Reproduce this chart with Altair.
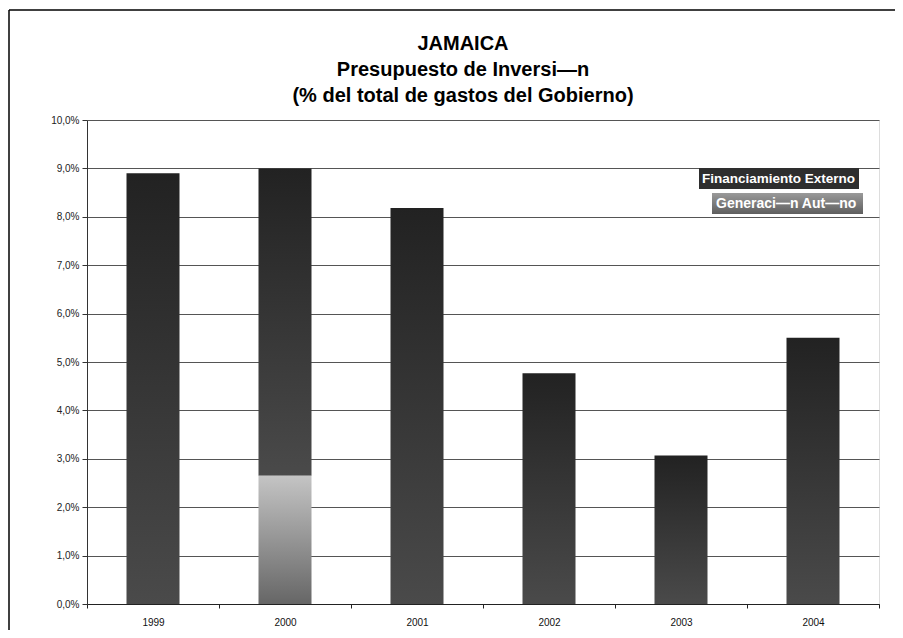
import altair as alt
import pandas as pd

years = ["1999", "2000", "2001", "2002", "2003", "2004"]
fin_externo = [8.9, 6.35, 8.18, 4.77, 3.07, 5.5]
gen_autonoma = [0.0, 2.65, 0.0, 0.0, 0.0, 0.0]
y_ticks = [0, 1, 2, 3, 4, 5, 6, 7, 8, 9, 10]
title_lines = ["JAMAICA", "Presupuesto de Inversi—n", "(% del total de gastos del Gobierno)"]
legend_labels = ["Financiamiento Externo", "Generaci—n Aut—noma"]

FONT = "Liberation Sans"
W, H = 792, 484

df = pd.DataFrame({"year": years, "fe": fin_externo, "ga": gen_autonoma})

fe_grad = alt.LinearGradient(
    gradient="linear",
    stops=[alt.GradientStop(color="#222222", offset=0), alt.GradientStop(color="#4a4a4a", offset=1)],
    x1=0, x2=0, y1=0, y2=1,
)
ga_grad = alt.LinearGradient(
    gradient="linear",
    stops=[alt.GradientStop(color="#c4c4c4", offset=0), alt.GradientStop(color="#666666", offset=1)],
    x1=0, x2=0, y1=0, y2=1,
)
leg_grad = alt.LinearGradient(
    gradient="linear",
    stops=[alt.GradientStop(color="#9a9a9a", offset=0), alt.GradientStop(color="#5e5e5e", offset=1)],
    x1=0, x2=0, y1=0, y2=1,
)

x_enc = alt.X(
    "year:N",
    sort=years,
    title=None,
    scale=alt.Scale(paddingInner=0, paddingOuter=0),
    axis=alt.Axis(
        labelAngle=0, labelFont=FONT, labelFontSize=10, labelColor="#111",
        labelPadding=9, tickSize=4, tickColor="#222", tickBand="extent",
        domainColor="#222", grid=False,
    ),
)
y_scale = alt.Scale(domain=[0, 10], nice=False)
y_axis = alt.Axis(
    values=y_ticks,
    labelExpr="replace(format(datum.value, '.1f'), '.', ',') + '%'",
    labelFont=FONT, labelFontSize=10, labelColor="#222", labelPadding=3,
    tickSize=5, tickColor="#333", domainColor="#333",
    gridColor="#555", gridWidth=1,
)

base = alt.Chart(df)

fe_bars = base.transform_calculate(top="datum.ga + datum.fe").mark_bar(
    color=fe_grad, size=53
).encode(
    x=x_enc,
    y=alt.Y("top:Q", scale=y_scale, axis=y_axis, title=None),
    y2="ga:Q",
)

ga_bars = base.transform_filter("datum.ga > 0").mark_bar(color=ga_grad, size=53).encode(
    x=x_enc,
    y=alt.Y("ga:Q", scale=y_scale, title=None),
    y2=alt.datum(0),
)

# Title lines (text)
title_layers = []
for i, line in enumerate(title_lines):
    title_layers.append(
        alt.Chart(pd.DataFrame({"t": [line]})).mark_text(
            font=FONT, fontSize=20, fontWeight="bold", color="#000",
            align="center", baseline="middle",
        ).encode(text="t:N", x=alt.value(376), y=alt.value(-76 + 26 * i))
    )

# Legend boxes
leg1_box = alt.Chart(pd.DataFrame({"a": [0]})).mark_rect(color="#2e2e2e").encode(
    x=alt.value(612), x2=alt.value(772), y=alt.value(48), y2=alt.value(69)
)
leg2_box = alt.Chart(pd.DataFrame({"a": [0]})).mark_rect(color=leg_grad).encode(
    x=alt.value(625), x2=alt.value(776), y=alt.value(73), y2=alt.value(94)
)
leg1_txt = alt.Chart(pd.DataFrame({"t": [legend_labels[0]]})).mark_text(
    font=FONT, fontSize=13.5, fontWeight="bold", color="white", align="left", baseline="middle",
).encode(text="t:N", x=alt.value(615), y=alt.value(58.5))
leg2_txt = alt.Chart(pd.DataFrame({"t": [legend_labels[1]]})).mark_text(
    font=FONT, fontSize=14, fontWeight="bold", color="white", align="left", baseline="middle",
    limit=148, ellipsis="\u200b",
).encode(text="t:N", x=alt.value(629), y=alt.value(83.5))

# Outer frame (top and left edges)
frame_top = alt.Chart(pd.DataFrame({"a": [0]})).mark_rule(color="#000", strokeWidth=1.5).encode(
    x=alt.value(-78), x2=alt.value(820), y=alt.value(-110)
)
frame_left = alt.Chart(pd.DataFrame({"a": [0]})).mark_rule(color="#000", strokeWidth=1.5).encode(
    x=alt.value(-78), y=alt.value(-110), y2=alt.value(530)
)

chart = alt.layer(
    fe_bars, ga_bars, *title_layers, leg1_box, leg2_box, leg1_txt, leg2_txt, frame_top, frame_left
).properties(
    width=W, height=H,
    autosize=alt.AutoSizeParams(type="none"),
    padding={"left": 79, "top": 112, "right": 16, "bottom": 26},
).configure_view(stroke="#999", strokeWidth=1).configure(background="white")

chart.save("out.html", embed_options={"renderer": "svg", "actions": False})
